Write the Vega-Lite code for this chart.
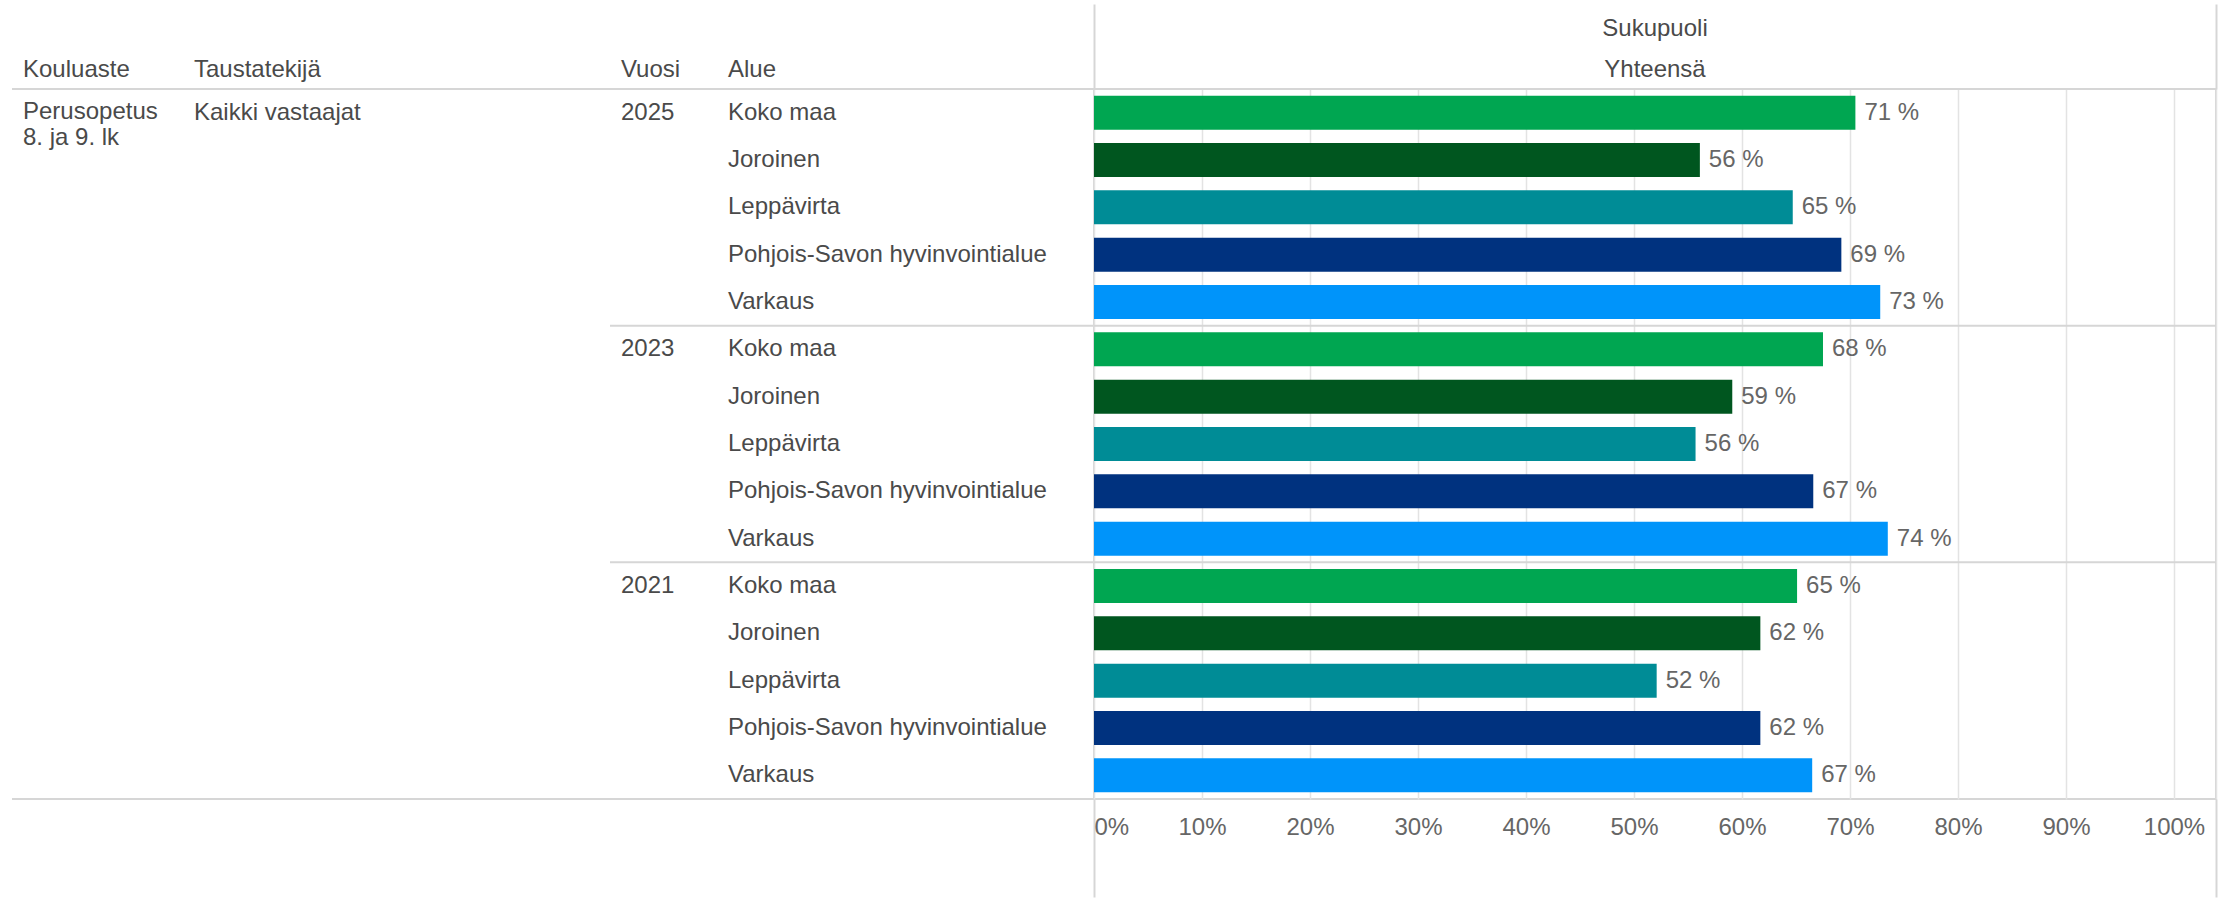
{
  "$schema": "https://vega.github.io/schema/vega-lite/v6.json",
  "background": "white",
  "padding": {"left": 11, "top": 2, "right": 0, "bottom": 0},
  "bounds": "flush",
  "spacing": 0,
  "config": {
    "font": "Liberation Sans",
    "view": {"stroke": null},
    "text": {"font": "Liberation Sans", "fontSize": 24, "color": "#4a4a4a"},
    "title": {"font": "Liberation Sans", "fontSize": 24, "fontWeight": "normal", "color": "#4a4a4a", "subtitleFont": "Liberation Sans", "subtitleFontSize": 24, "subtitleColor": "#4a4a4a"},
    "axis": {"labelFont": "Liberation Sans", "labelFontSize": 24, "labelColor": "#666666"}
  },
  "data": {
    "values": [
      {"Kouluaste": "Perusopetus\n8. ja 9. lk", "Taustatekija": "Kaikki vastaajat", "Vuosi": 2025, "Alue": "Koko maa", "arvo": 70.5},
      {"Kouluaste": "Perusopetus\n8. ja 9. lk", "Taustatekija": "Kaikki vastaajat", "Vuosi": 2025, "Alue": "Joroinen", "arvo": 56.1},
      {"Kouluaste": "Perusopetus\n8. ja 9. lk", "Taustatekija": "Kaikki vastaajat", "Vuosi": 2025, "Alue": "Leppävirta", "arvo": 64.7},
      {"Kouluaste": "Perusopetus\n8. ja 9. lk", "Taustatekija": "Kaikki vastaajat", "Vuosi": 2025, "Alue": "Pohjois-Savon hyvinvointialue", "arvo": 69.2},
      {"Kouluaste": "Perusopetus\n8. ja 9. lk", "Taustatekija": "Kaikki vastaajat", "Vuosi": 2025, "Alue": "Varkaus", "arvo": 72.8},
      {"Kouluaste": "Perusopetus\n8. ja 9. lk", "Taustatekija": "Kaikki vastaajat", "Vuosi": 2023, "Alue": "Koko maa", "arvo": 67.5},
      {"Kouluaste": "Perusopetus\n8. ja 9. lk", "Taustatekija": "Kaikki vastaajat", "Vuosi": 2023, "Alue": "Joroinen", "arvo": 59.1},
      {"Kouluaste": "Perusopetus\n8. ja 9. lk", "Taustatekija": "Kaikki vastaajat", "Vuosi": 2023, "Alue": "Leppävirta", "arvo": 55.7},
      {"Kouluaste": "Perusopetus\n8. ja 9. lk", "Taustatekija": "Kaikki vastaajat", "Vuosi": 2023, "Alue": "Pohjois-Savon hyvinvointialue", "arvo": 66.6},
      {"Kouluaste": "Perusopetus\n8. ja 9. lk", "Taustatekija": "Kaikki vastaajat", "Vuosi": 2023, "Alue": "Varkaus", "arvo": 73.5},
      {"Kouluaste": "Perusopetus\n8. ja 9. lk", "Taustatekija": "Kaikki vastaajat", "Vuosi": 2021, "Alue": "Koko maa", "arvo": 65.1},
      {"Kouluaste": "Perusopetus\n8. ja 9. lk", "Taustatekija": "Kaikki vastaajat", "Vuosi": 2021, "Alue": "Joroinen", "arvo": 61.7},
      {"Kouluaste": "Perusopetus\n8. ja 9. lk", "Taustatekija": "Kaikki vastaajat", "Vuosi": 2021, "Alue": "Leppävirta", "arvo": 52.1},
      {"Kouluaste": "Perusopetus\n8. ja 9. lk", "Taustatekija": "Kaikki vastaajat", "Vuosi": 2021, "Alue": "Pohjois-Savon hyvinvointialue", "arvo": 61.7},
      {"Kouluaste": "Perusopetus\n8. ja 9. lk", "Taustatekija": "Kaikki vastaajat", "Vuosi": 2021, "Alue": "Varkaus", "arvo": 66.5}
    ]
  },
  "transform": [
    {"calculate": "datum.Vuosi + ' ' + datum.Alue", "as": "rivi"},
    {"calculate": "format(datum.arvo, '.0f') + ' %'", "as": "teksti"}
  ],
  "hconcat": [
    {
      "width": 171, "height": 710,
      "title": {"text": "Kouluaste", "anchor": "start", "frame": "group", "offset": 6, "dx": 11},
      "layer": [
        {
          "mark": {"type": "text", "align": "left", "baseline": "alphabetic", "dx": 11, "dy": 6, "lineBreak": "\n", "lineHeight": 26},
          "encoding": {
            "y": {"field": "rivi", "type": "nominal", "sort": null, "axis": null, "scale": {"type": "band", "paddingInner": 0, "paddingOuter": 0}},
            "x": {"datum": 0, "type": "quantitative", "scale": {"domain": [0, 1]}, "axis": null},
            "text": {"condition": {"test": "datum.Vuosi === 2025 && datum.Alue === 'Koko maa'", "field": "Kouluaste"}, "value": ""}
          }
        },
        {
          "mark": {"type": "rule", "color": "#d6d6d6", "strokeWidth": 2},
          "encoding": {
            "y": {"field": "rivi", "type": "nominal", "sort": null, "bandPosition": 0, "axis": null},
            "strokeOpacity": {"condition": {"test": "datum.Vuosi === 2025 && datum.Alue === 'Koko maa'", "value": 1}, "value": 0}
          }
        },
        {
          "mark": {"type": "rule", "color": "#d6d6d6", "strokeWidth": 2},
          "encoding": {
            "y": {"field": "rivi", "type": "nominal", "sort": null, "bandPosition": 1, "axis": null},
            "strokeOpacity": {"condition": {"test": "datum.Vuosi === 2021 && datum.Alue === 'Varkaus'", "value": 1}, "value": 0}
          }
        }
      ]
    },
    {
      "width": 427, "height": 710,
      "title": {"text": "Taustatekijä", "anchor": "start", "frame": "group", "offset": 6, "dx": 11},
      "layer": [
        {
          "mark": {"type": "text", "align": "left", "baseline": "middle", "dx": 11},
          "encoding": {
            "y": {"field": "rivi", "type": "nominal", "sort": null, "axis": null, "scale": {"type": "band", "paddingInner": 0, "paddingOuter": 0}},
            "x": {"datum": 0, "type": "quantitative", "scale": {"domain": [0, 1]}, "axis": null},
            "text": {"condition": {"test": "datum.Vuosi === 2025 && datum.Alue === 'Koko maa'", "field": "Taustatekija"}, "value": ""}
          }
        },
        {
          "mark": {"type": "rule", "color": "#d6d6d6", "strokeWidth": 2},
          "encoding": {
            "y": {"field": "rivi", "type": "nominal", "sort": null, "bandPosition": 0, "axis": null},
            "strokeOpacity": {"condition": {"test": "datum.Vuosi === 2025 && datum.Alue === 'Koko maa'", "value": 1}, "value": 0}
          }
        },
        {
          "mark": {"type": "rule", "color": "#d6d6d6", "strokeWidth": 2},
          "encoding": {
            "y": {"field": "rivi", "type": "nominal", "sort": null, "bandPosition": 1, "axis": null},
            "strokeOpacity": {"condition": {"test": "datum.Vuosi === 2021 && datum.Alue === 'Varkaus'", "value": 1}, "value": 0}
          }
        }
      ]
    },
    {
      "width": 107, "height": 710,
      "title": {"text": "Vuosi", "anchor": "start", "frame": "group", "offset": 6, "dx": 11},
      "layer": [
        {
          "mark": {"type": "text", "align": "left", "baseline": "middle", "dx": 11},
          "encoding": {
            "y": {"field": "rivi", "type": "nominal", "sort": null, "axis": null, "scale": {"type": "band", "paddingInner": 0, "paddingOuter": 0}},
            "x": {"datum": 0, "type": "quantitative", "scale": {"domain": [0, 1]}, "axis": null},
            "text": {"condition": {"test": "datum.Alue === 'Koko maa'", "field": "Vuosi", "type": "nominal"}, "value": ""}
          }
        },
        {
          "mark": {"type": "rule", "color": "#d6d6d6", "strokeWidth": 2},
          "encoding": {
            "y": {"field": "rivi", "type": "nominal", "sort": null, "bandPosition": 0, "axis": null},
            "strokeOpacity": {"condition": {"test": "datum.Alue === 'Koko maa'", "value": 1}, "value": 0}
          }
        },
        {
          "mark": {"type": "rule", "color": "#d6d6d6", "strokeWidth": 2},
          "encoding": {
            "y": {"field": "rivi", "type": "nominal", "sort": null, "bandPosition": 1, "axis": null},
            "strokeOpacity": {"condition": {"test": "datum.Vuosi === 2021 && datum.Alue === 'Varkaus'", "value": 1}, "value": 0}
          }
        }
      ]
    },
    {
      "width": 377, "height": 710,
      "title": {"text": "Alue", "anchor": "start", "frame": "group", "offset": 6, "dx": 11},
      "layer": [
        {
          "mark": {"type": "text", "align": "left", "baseline": "middle", "dx": 11},
          "encoding": {
            "y": {"field": "rivi", "type": "nominal", "sort": null, "axis": null, "scale": {"type": "band", "paddingInner": 0, "paddingOuter": 0}},
            "x": {"datum": 0, "type": "quantitative", "scale": {"domain": [0, 1]}, "axis": null},
            "text": {"field": "Alue"}
          }
        },
        {
          "mark": {"type": "rule", "color": "#d6d6d6", "strokeWidth": 2},
          "encoding": {
            "y": {"field": "rivi", "type": "nominal", "sort": null, "bandPosition": 0, "axis": null},
            "strokeOpacity": {"condition": {"test": "datum.Alue === 'Koko maa'", "value": 1}, "value": 0}
          }
        },
        {
          "mark": {"type": "rule", "color": "#d6d6d6", "strokeWidth": 2},
          "encoding": {
            "y": {"field": "rivi", "type": "nominal", "sort": null, "bandPosition": 1, "axis": null},
            "strokeOpacity": {"condition": {"test": "datum.Vuosi === 2021 && datum.Alue === 'Varkaus'", "value": 1}, "value": 0}
          }
        }
      ]
    },
    {
      "width": 1122, "height": 710,
      "view": {"stroke": "#d6d6d6", "strokeWidth": 2},
      "title": {"text": "Sukupuoli", "subtitle": "Yhteensä", "anchor": "middle", "frame": "group", "offset": -79, "subtitlePadding": 17},
      "resolve": {"axis": {"x": "independent"}},
      "layer": [
        {
          "mark": {"type": "bar", "height": {"band": 0.72}},
          "encoding": {
            "y": {"field": "rivi", "type": "nominal", "sort": null, "axis": null, "scale": {"type": "band", "paddingInner": 0, "paddingOuter": 0}},
            "x": {
              "field": "arvo", "type": "quantitative",
              "scale": {"domain": [0, 103.89], "nice": false, "zero": true},
              "axis": {
                "orient": "bottom", "title": null, "domain": false,
                "values": [0, 10, 20, 30, 40, 50, 60, 70, 80, 90, 100, 103.89],
                "labelExpr": "datum.value > 100 ? '' : datum.value + '%'",
                "labelFlush": true, "labelPadding": -82,
                "ticks": true, "tickSize": 98, "tickWidth": 2, "tickColor": "#d6d6d6",
                "tickOpacity": {"condition": {"test": "datum.value === 0 || datum.value > 100", "value": 1}, "value": 0},
                "grid": true, "gridColor": "#e3e3e3", "gridWidth": 1.5
              }
            },
            "color": {
              "field": "Alue", "type": "nominal", "legend": null,
              "scale": {
                "domain": ["Koko maa", "Joroinen", "Leppävirta", "Pohjois-Savon hyvinvointialue", "Varkaus"],
                "range": ["#00A651", "#00561F", "#008C96", "#00327F", "#0094FA"]
              }
            }
          }
        },
        {
          "mark": {"type": "text", "align": "left", "baseline": "middle", "dx": 9, "color": "#666666"},
          "encoding": {
            "y": {"field": "rivi", "type": "nominal", "sort": null, "axis": null},
            "x": {
              "field": "arvo", "type": "quantitative",
              "axis": {
                "orient": "top", "title": null, "domain": false, "labels": false, "grid": false,
                "values": [0, 103.89],
                "ticks": true, "tickSize": 85, "tickWidth": 2, "tickColor": "#d6d6d6"
              }
            },
            "text": {"field": "teksti"}
          }
        },
        {
          "mark": {"type": "rule", "color": "#d6d6d6", "strokeWidth": 2},
          "encoding": {
            "y": {"field": "rivi", "type": "nominal", "sort": null, "bandPosition": 0, "axis": null},
            "strokeOpacity": {"condition": {"test": "datum.Alue === 'Koko maa'", "value": 1}, "value": 0}
          }
        }
      ]
    }
  ]
}
